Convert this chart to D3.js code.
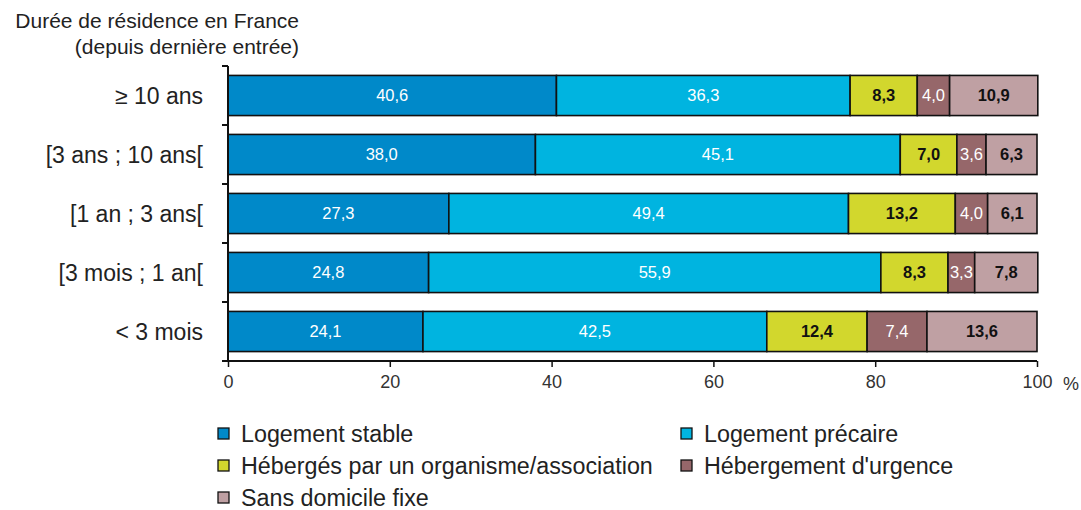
<!DOCTYPE html>
<html>
<head>
<meta charset="utf-8">
<script src="https://cdn.jsdelivr.net/npm/d3@7"></script>
<style>
  body { margin: 0; background: #fff; }
  svg { font-family: "Liberation Sans", Arial, sans-serif; }
</style>
</head>
<body>
<script>
// categories (top to bottom) and the five housing series, in %
var durees = ["\u2265 10 ans", "[3 ans ; 10 ans[", "[1 an ; 3 ans[", "[3 mois ; 1 an[", "< 3 mois"];
var series = ["Logement stable", "Logement pr\u00e9caire", "H\u00e9berg\u00e9s par un organisme/association", "H\u00e9bergement d'urgence", "Sans domicile fixe"];
var stable   = [40.6, 38.0, 27.3, 24.8, 24.1];
var precaire = [36.3, 45.1, 49.4, 55.9, 42.5];
var organisme = [8.3, 7.0, 13.2, 8.3, 12.4];
var urgence  = [4.0, 3.6, 4.0, 3.3, 7.4];
var sdf      = [10.9, 6.3, 6.1, 7.8, 13.6];
var xTicks = [0, 20, 40, 60, 80, 100];

var colors = ["#0089c9", "#00b4e0", "#d2d72d", "#96676a", "#bfa0a3"];
var labelColors = ["#fff", "#fff", "#111", "#fff", "#111"];

var width = 1081, height = 510;

//build rows for the stack
var rows = durees.map(function(d, i) {
  return { duree: d, s0: stable[i], s1: precaire[i], s2: organisme[i], s3: urgence[i], s4: sdf[i] };
});
var keys = ["s0", "s1", "s2", "s3", "s4"];
var stacked = d3.stack().keys(keys)(rows);

var svg = d3.select("body").append("svg")
  .attr("width", width)
  .attr("height", height);

var x = d3.scaleLinear().domain([0, 100]).range([228, 1037]);
var y = d3.scaleBand().domain(durees).range([66, 361])
  .paddingInner(0.32).paddingOuter(0.16);

//title
svg.append("text")
  .attr("x", 299).attr("y", 28)
  .attr("text-anchor", "end")
  .attr("font-size", 21).attr("fill", "#222")
  .text("Dur\u00e9e de r\u00e9sidence en France");
svg.append("text")
  .attr("x", 299).attr("y", 54)
  .attr("text-anchor", "end")
  .attr("font-size", 21).attr("fill", "#222")
  .text("(depuis derni\u00e8re entr\u00e9e)");

//bars
var layer = svg.selectAll(".layer")
  .data(stacked)
  .enter().append("g")
  .attr("class", "layer");

layer.selectAll("rect")
  .data(function(d) { return d; })
  .enter().append("rect")
  .attr("x", function(d) { return x(d[0]); })
  .attr("y", function(d) { return y(d.data.duree); })
  .attr("width", function(d) { return x(d[1]) - x(d[0]); })
  .attr("height", y.bandwidth())
  .attr("fill", function(d, i, nodes) { return colors[keys.indexOf(d3.select(nodes[i].parentNode).datum().key)]; })
  .attr("stroke", "#111")
  .attr("stroke-width", 1.6);

//value labels
stacked.forEach(function(s, k) {
  svg.append("g").selectAll("text")
    .data(s)
    .enter().append("text")
    .attr("x", function(d) { return (x(d[0]) + x(d[1])) / 2; })
    .attr("y", function(d) { return y(d.data.duree) + y.bandwidth() / 2; })
    .attr("dy", "0.36em")
    .attr("text-anchor", "middle")
    .attr("font-size", 16.5)
    .attr("font-weight", k == 2 || k == 4 ? "bold" : "normal")
    .attr("fill", labelColors[k])
    .text(function(d) { return d3.format(".1f")(d[1] - d[0]).replace(".", ","); });
});

//y axis: line with ticks at band boundaries
var yAxisG = svg.append("g");
yAxisG.append("line")
  .attr("x1", x(0)).attr("x2", x(0))
  .attr("y1", y.range()[0]).attr("y2", y.range()[1])
  .attr("stroke", "#111").attr("stroke-width", 2);
var bounds = durees.map(function(d) { return y(d) - y.step() * y.paddingInner() / 2; });
bounds.push(y.range()[1]);
yAxisG.selectAll(".tk")
  .data(bounds)
  .enter().append("line")
  .attr("x1", x(0) - 6).attr("x2", x(0))
  .attr("y1", function(d) { return d; }).attr("y2", function(d) { return d; })
  .attr("stroke", "#111").attr("stroke-width", 2);
yAxisG.selectAll(".cat")
  .data(durees)
  .enter().append("text")
  .attr("x", 203)
  .attr("y", function(d) { return y(d) + y.bandwidth() / 2; })
  .attr("dy", "0.36em")
  .attr("text-anchor", "end")
  .attr("font-size", 23).attr("fill", "#222")
  .text(function(d) { return d; });

//x axis
var xAxis = d3.axisBottom(x).tickValues(xTicks).tickSize(6).tickPadding(8)
  .tickFormat(function(d) { return d; });
var xg = svg.append("g")
  .attr("transform", "translate(0," + y.range()[1] + ")")
  .call(xAxis);
xg.select(".domain").attr("d", "M" + (x(0) - 6) + ",0H" + x(100))
  .attr("stroke", "#111").attr("stroke-width", 2);
xg.selectAll(".tick line").attr("stroke", "#111").attr("stroke-width", 1.5);
xg.selectAll(".tick text")
  .attr("font-family", "Liberation Sans, Arial, sans-serif")
  .attr("font-size", 18).attr("fill", "#333");
svg.append("text")
  .attr("x", x(100) + 26).attr("y", y.range()[1] + 29)
  .attr("font-size", 18).attr("fill", "#333")
  .text("%");

//legend in two columns
var legend = svg.append("g").selectAll("g")
  .data(series)
  .enter().append("g")
  .attr("transform", function(d, i) {
    return "translate(" + (i % 2 == 0 ? 218 : 681) + "," + (434 + Math.floor(i / 2) * 32) + ")";
  });
legend.append("rect")
  .attr("x", 0).attr("y", -6)
  .attr("width", 11).attr("height", 11)
  .attr("fill", function(d, i) { return colors[i]; })
  .attr("stroke", "#111").attr("stroke-width", 1.3);
legend.append("text")
  .attr("x", 23).attr("y", 0)
  .attr("dy", "0.36em")
  .attr("font-size", 23.3).attr("fill", "#222")
  .text(function(d) { return d; });
</script>
</body>
</html>
